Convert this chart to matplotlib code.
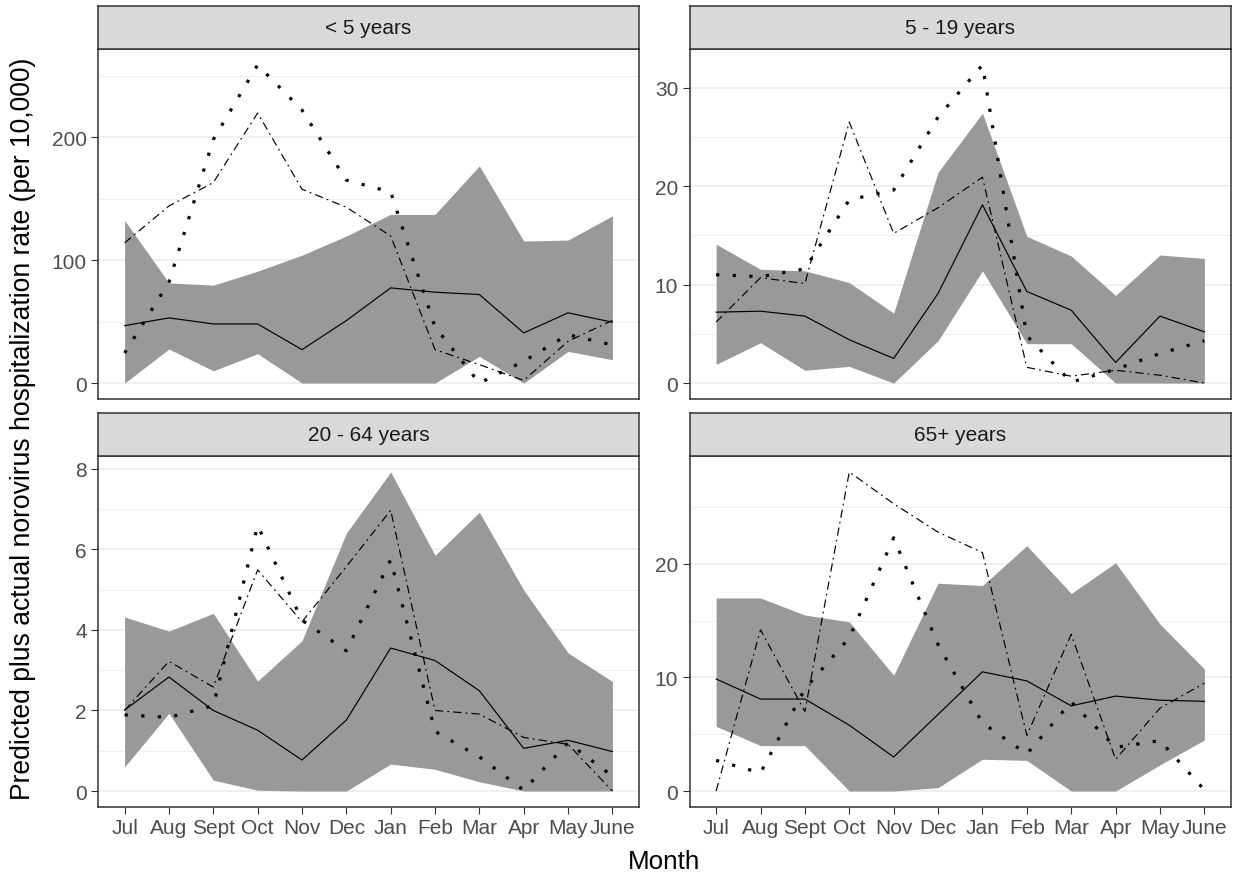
import matplotlib.pyplot as plt
import numpy as np
from matplotlib.ticker import MultipleLocator

plt.rcParams['font.family'] = ['Liberation Sans', 'DejaVu Sans']

months = ['Jul', 'Aug', 'Sept', 'Oct', 'Nov', 'Dec', 'Jan', 'Feb', 'Mar', 'Apr', 'May', 'June']
panel_names = ['< 5 years', '5 - 19 years', '20 - 64 years', '65+ years']

# predicted mean, lower and upper band, and two observed seasons (dotted, dash-dot)
pred_u5 = [46.7, 53.0, 48.1, 48.1, 27.2, 50.8, 77.4, 73.9, 72.0, 40.8, 57.1, 49.5]
lo_u5 = [0, 27.7, 10.0, 23.9, 0, 0, 0, 0, 21.7, 0, 25.8, 19.0]
hi_u5 = [132.3, 81.5, 79.6, 91.0, 104.0, 119.6, 137.2, 137.2, 176.6, 115.5, 116.3, 136.0]
dot_u5 = [24.5, 82, 198, 258.7, 222, 165, 155.4, 45.7, 0, 17.7, 39.4, 31]
dash_u5 = [114, 144, 163, 219.6, 157.6, 143, 119.6, 27.2, 15, 2.2, 34, 51]

pred_5_19 = [7.2, 7.3, 6.8, 4.4, 2.5, 9.1, 18.1, 9.3, 7.4, 2.1, 6.8, 5.2]
lo_5_19 = [1.9, 4.1, 1.3, 1.7, 0, 4.3, 11.4, 4.0, 4.0, 0, 0, 0]
hi_5_19 = [14.1, 11.55, 11.4, 10.2, 7.1, 21.4, 27.4, 14.9, 12.9, 8.9, 13.0, 12.65]
dot_5_19 = [11.0, 10.8, 11.6, 18.6, 19.6, 27.0, 32.3, 4.8, 0.1, 1.4, 3.0, 4.3]
dash_5_19 = [6.2, 10.7, 10.1, 26.5, 15.2, 17.8, 20.9, 1.6, 0.7, 1.3, 0.8, 0.0]

pred_20_64 = [2.01, 2.83, 2.0, 1.51, 0.77, 1.76, 3.55, 3.24, 2.49, 1.06, 1.26, 0.98]
lo_20_64 = [0.6, 1.93, 0.27, 0.02, 0, 0, 0.67, 0.54, 0.23, 0, 0, 0]
hi_20_64 = [4.32, 3.97, 4.41, 2.73, 3.73, 6.40, 7.92, 5.85, 6.92, 4.99, 3.43, 2.72]
dot_20_64 = [1.89, 1.83, 2.12, 6.59, 4.24, 3.48, 5.74, 1.48, 0.85, 0.02, 1.2, 0.37]
dash_20_64 = [2.0, 3.22, 2.58, 5.49, 4.2, 5.57, 6.97, 2.0, 1.91, 1.33, 1.16, 0.0]

pred_65 = [9.87, 8.1, 8.1, 5.8, 3.0, 6.75, 10.5, 9.7, 7.5, 8.36, 8.0, 7.9]
lo_65 = [5.7, 4.0, 4.0, 0, 0, 0.3, 2.8, 2.7, 0, 0, 2.3, 4.5]
hi_65 = [17.0, 17.0, 15.5, 14.9, 10.2, 18.3, 18.1, 21.6, 17.4, 20.1, 14.7, 10.75]
dot_65 = [2.7, 1.6, 9.0, 13.5, 22.3, 12.9, 6.0, 3.26, 7.85, 3.85, 4.44, 0.1]
dash_65 = [0.0, 14.2, 7.0, 28.1, 25.3, 22.8, 21.0, 4.9, 13.8, 2.8, 7.3, 9.5]

series = [
    (pred_u5, lo_u5, hi_u5, dot_u5, dash_u5),
    (pred_5_19, lo_5_19, hi_5_19, dot_5_19, dash_5_19),
    (pred_20_64, lo_20_64, hi_20_64, dot_20_64, dash_20_64),
    (pred_65, lo_65, hi_65, dot_65, dash_65),
]
steps = [100, 10, 2, 10]

W, H = 1243, 878
fig = plt.figure(figsize=(W / 100, H / 100), dpi=100)


def px_axes(x0, y0, x1, y1):
    return fig.add_axes([x0 / W, 1 - y1 / H, (x1 - x0) / W, (y1 - y0) / H])


boxes = [(98, 50, 639, 400), (689.5, 50, 1231, 400),
         (98, 457, 639, 808), (689.5, 457, 1231, 808)]
strip_h = 43
border = '#333333'

x = np.arange(len(months))
for i, (name, data, box, step) in enumerate(zip(panel_names, series, boxes, steps)):
    pred, lo, hi, dot, dash = data
    ax = px_axes(*box)
    ax.fill_between(x, lo, hi, color='#999999', lw=0, zorder=2)
    ax.plot(x, pred, color='black', lw=0.85, zorder=3)
    ax.plot(x, dot, color='black', lw=2.3, linestyle=(0, (1, 4.2)), zorder=3)
    ax.plot(x, dash, color='black', lw=0.85, linestyle=(0, (7, 3.5, 1.5, 3.5)), zorder=3)

    allv = np.concatenate([pred, lo, hi, dot, dash])
    vmin, vmax = allv.min(), allv.max()
    pad = 0.05 * (vmax - vmin)
    ax.set_ylim(vmin - pad, vmax + pad)
    ax.set_xlim(-0.6, len(months) - 0.4)

    ax.yaxis.set_major_locator(MultipleLocator(step))
    ax.yaxis.set_minor_locator(MultipleLocator(step / 2))
    ax.grid(axis='y', which='major', color='#EBEBEB', lw=1.1)
    ax.grid(axis='y', which='minor', color='#EBEBEB', lw=0.55)
    ax.set_axisbelow(True)
    ax.tick_params(axis='y', which='minor', length=0)
    ax.tick_params(axis='both', which='major', length=4.7, width=0.8, color=border,
                   labelcolor='#4D4D4D', labelsize=15, pad=3.4)
    ax.set_xticks(x)
    ax.set_xticklabels(months)
    if i < 2:
        ax.tick_params(axis='x', length=0, labelbottom=False)
    for sp in ax.spines.values():
        sp.set_color(border)
        sp.set_linewidth(1.1)

    sx = px_axes(box[0], box[1] - strip_h, box[2], box[1])
    sx.set_facecolor('#D9D9D9')
    sx.set_xticks([])
    sx.set_yticks([])
    for sp in sx.spines.values():
        sp.set_color(border)
        sp.set_linewidth(1.1)
    sx.text(0.5, 0.5, name, transform=sx.transAxes, ha='center', va='center',
            fontsize=15, color='#1A1A1A')

fig.text(23 / W, 1 - 429 / H, 'Predicted plus actual norovirus hospitalization rate (per 10,000)',
         rotation=90, ha='center', va='center', fontsize=19.1)
fig.text(664.5 / W, 1 - 862 / H, 'Month', ha='center', va='center', fontsize=18.7)

fig.savefig('out.png', dpi=100)
